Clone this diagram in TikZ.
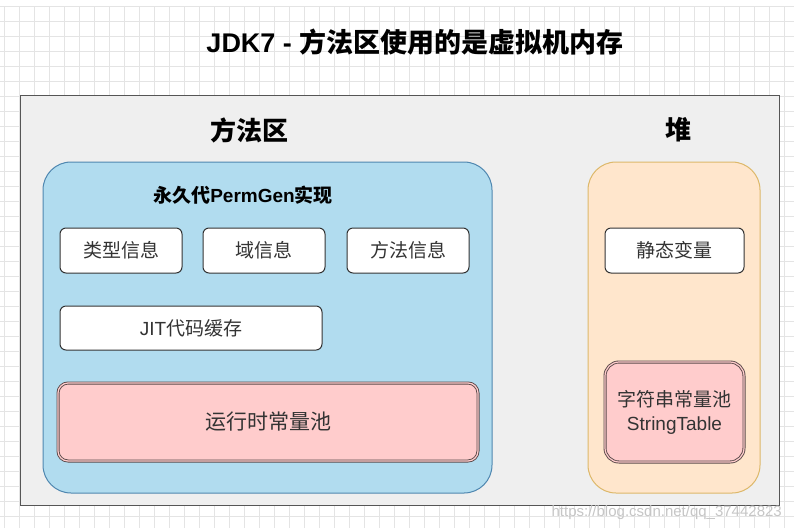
\documentclass[tikz,border=0pt]{standalone}
\usepackage{fontspec}
\setmainfont{Noto Sans CJK SC}
\newfontfamily\lat{Liberation Sans}
\definecolor{areafill}{HTML}{EFEFEF}
\definecolor{areadraw}{HTML}{555555}
\definecolor{bluefill}{HTML}{B1DCEF}
\definecolor{bluedraw}{HTML}{4F87B0}
\definecolor{orangefill}{HTML}{FFE6CC}
\definecolor{orangedraw}{HTML}{DDB86A}
\definecolor{pinkfill}{HTML}{FFCCCC}
\definecolor{pinkdraw}{HTML}{5A4A4A}
\definecolor{textgray}{HTML}{333333}
\definecolor{gridgray}{HTML}{E4E4E4}
\tikzset{
  area/.style={draw=areadraw, fill=areafill, line width=1pt, inner sep=0pt},
  bluebox/.style={draw=bluedraw, fill=bluefill, line width=1pt, rounded corners=28pt, inner sep=0pt},
  orangebox/.style={draw=orangedraw, fill=orangefill, line width=1pt, rounded corners=28pt, inner sep=0pt},
  infobox/.style={draw=textgray, fill=white, line width=1pt, rounded corners=6pt, text=textgray, font=\fontsize{19}{22}\selectfont, inner sep=0pt},
  poolbox/.style={draw=pinkdraw, fill=pinkfill, double=pinkfill, double distance=1.2pt, line width=0.9pt, rounded corners=10pt, text=textgray, inner sep=0pt, align=center},
  heading/.style={font=\bfseries\fontsize{26}{30}\selectfont, text=black, inner sep=0pt},
  mark text/.style={font=\lat\fontsize{15}{18}\selectfont, text=gray!45, inner sep=0pt}
}
\begin{document}
\begin{tikzpicture}[x=1pt,y=-1pt]
  \useasboundingbox (0,0) rectangle (794,528);
  \fill[white] (0,0) rectangle (794,528);
  \draw[gridgray, line width=0.6pt, step=15pt, shift={(4,6)}] (-4,0) grid (794,522);

  \node[font=\bfseries\fontsize{27}{32}\selectfont, inner sep=0pt] (title) at (415,42) {{\lat JDK7 - }方法区使用的是虚拟机内存};

  \node[area, minimum width=759pt, minimum height=410pt] (mem) at (399.5,300) {};

  \node[heading] (mlabel) at (249,130) {方法区};
  \node[heading] (hlabel) at (678,130) {堆};

  \node[bluebox, minimum width=449pt, minimum height=331pt] (perm) at (267.5,327.5) {};
  \node[orangebox, minimum width=172pt, minimum height=331pt] (heap) at (674,327.5) {};

  \node[font=\bfseries\fontsize{19}{22}\selectfont, inner sep=0pt] (permlabel) at (243,195) {永久代{\lat PermGen}实现};

  \node[infobox, minimum width=122pt, minimum height=45pt] (type) at (121,250.5) {类型信息};
  \node[infobox, minimum width=122pt, minimum height=45pt] (field) at (264,250.5) {域信息};
  \node[infobox, minimum width=122pt, minimum height=45pt] (method) at (408,250.5) {方法信息};
  \node[infobox, minimum width=262pt, minimum height=44pt] (jit) at (191,328) {{\lat JIT}代码缓存};

  \node[poolbox, minimum width=420pt, minimum height=78pt, font=\fontsize{21}{24}\selectfont] (rtpool) at (268,422) {运行时常量池};

  \node[infobox, minimum width=139pt, minimum height=45pt] (static) at (674.5,250.5) {静态变量};
  \node[poolbox, minimum width=139pt, minimum height=100pt, rounded corners=14pt, font=\fontsize{19}{24}\selectfont] (strpool) at (674.5,412) {字符串常量池\\{\lat StringTable}};

  \node[mark text, anchor=east] (wm) at (782,513) {https://blog.csdn.net/qq\_37442823};
\end{tikzpicture}
\end{document}
